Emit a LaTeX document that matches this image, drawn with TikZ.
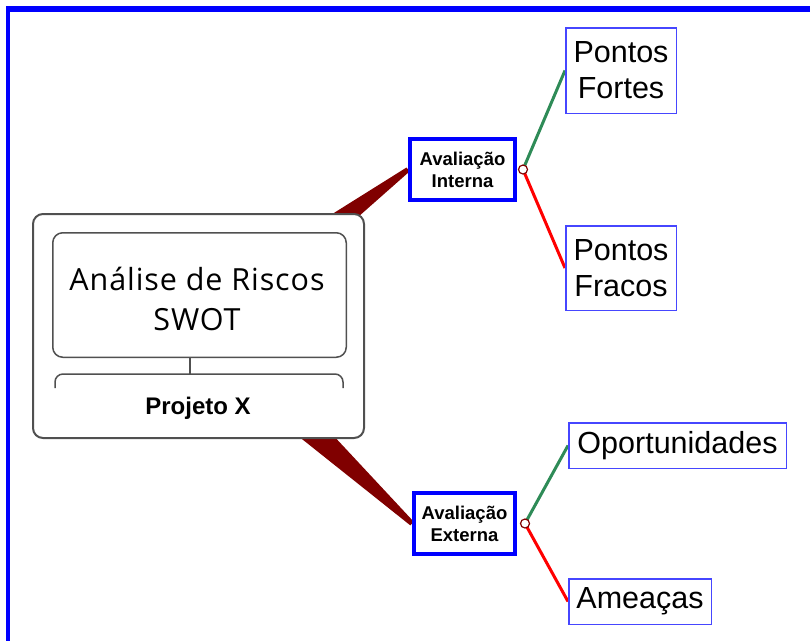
\documentclass[tikz,border=0pt]{standalone}
\usepackage{fontspec}
\setmainfont{Liberation Sans}
\newfontfamily\titlefont[LetterSpace=3]{Open Sans}
\usetikzlibrary{calc,backgrounds}
\definecolor{frameblue}{RGB}{0,0,255}
\definecolor{leafblue}{RGB}{70,70,255}
\definecolor{wedgered}{RGB}{128,0,0}
\definecolor{boxgray}{RGB}{80,80,80}
\definecolor{okgreen}{RGB}{46,139,87}
\definecolor{badred}{RGB}{255,0,0}
\tikzset{
  evalbox/.style={draw=frameblue, line width=4pt, fill=white, inner sep=0pt, align=center,
    font=\fontsize{18.5}{22}\selectfont\bfseries},
  leafbox/.style={draw=leafblue, line width=1.5pt, fill=white, inner sep=0pt, align=center,
    font=\fontsize{30.5}{36}\selectfont},
  joint/.style={circle, draw=wedgered, fill=white, line width=1.2pt, minimum size=9pt, inner sep=0pt},
  goodline/.style={draw=okgreen, line width=3pt},
  badline/.style={draw=badred, line width=3pt},
  wedge/.style={fill=wedgered},
  graybox/.style={draw=boxgray, fill=white, rounded corners=10pt, inner sep=0pt}
}
\begin{document}
\begin{tikzpicture}[x=1pt,y=-1pt]
\useasboundingbox (0,0) rectangle (810,641);
% frame
\fill[frameblue] (6,6) rectangle (810,12);
\fill[frameblue] (6,6) rectangle (10,641);
% main box
\node[graybox, line width=2pt, minimum width=331pt, minimum height=224pt] (main) at (198.5,326) {};
\node[graybox, line width=1.5pt, minimum width=293.5pt, minimum height=124.5pt] (titlebox) at (199.5,295) {};
\node[inner sep=0pt, align=center, font=\titlefont\fontsize{30.5}{40}\selectfont] (title) at (197,299) {Análise de Riscos\\SWOT};
\draw[boxgray, line width=1.5pt] ([xshift=-9.5pt]titlebox.south) -- ++(0,16) coordinate (bj);
\draw[boxgray, line width=1.5pt, rounded corners=8pt] (55,388) -- (55,374) -- (343,374) -- (343,388);
\node[font=\fontsize{24}{28}\selectfont\bfseries, inner sep=0pt] (proj) at (198,408) {Projeto X};
% evaluation boxes
\node[evalbox, minimum width=105pt, minimum height=61pt] (ai) at (462.5,169.5) {Avaliação\\Interna};
\node[evalbox, minimum width=101pt, minimum height=61pt] (ae) at (464.5,523.5) {Avaliação\\Externa};
% wedges
\begin{scope}[on background layer]
\fill[wedge] ($(main.center)!24pt!90:(ai.west)$) -- ($(ai.west)!2.5pt!-90:(main.center)$)
  -- ($(ai.west)!2.5pt!90:(main.center)$) -- ($(main.center)!24pt!-90:(ai.west)$) -- cycle;
\fill[wedge] ($(main.center)!24pt!90:(ae.west)$) -- ($(ae.west)!2.5pt!-90:(main.center)$)
  -- ($(ae.west)!2.5pt!90:(main.center)$) -- ($(main.center)!24pt!-90:(ae.west)$) -- cycle;
\end{scope}
% leaves
\node[leafbox, minimum width=110.5pt, minimum height=85.5pt] (pf) at (621,70.5) {Pontos\\Fortes};
\node[leafbox, minimum width=110.5pt, minimum height=84.5pt] (pw) at (621,268) {Pontos\\Fracos};
\node[leafbox, minimum width=217.5pt, minimum height=45.5pt] (op) at (677.5,445.5) {Oportunidades};
\node[leafbox, minimum width=142.5pt, minimum height=45.5pt] (am) at (640,601.5) {Ameaças};
% joints
\node[joint] (ji) at ([xshift=6pt]ai.east) {};
\node[joint] (je) at ([xshift=8pt]ae.east) {};
\begin{scope}[on background layer]
\draw[goodline] (ji.center) -- (pf.west);
\draw[badline] (ji.center) -- (pw.west);
\draw[goodline] (je.center) -- (op.west);
\draw[badline] (je.center) -- (am.west);
\end{scope}
\end{tikzpicture}
\end{document}
